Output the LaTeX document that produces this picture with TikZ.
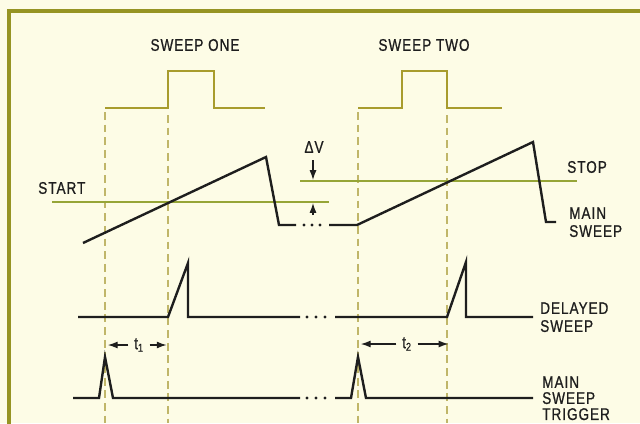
\documentclass[tikz,border=0pt]{standalone}
\usepackage{fontspec}
\setmainfont{Liberation Sans}
\newfontfamily\labelfont[FakeStretch=0.8,LetterSpace=6,FakeBold=0.8]{Liberation Sans}
\usetikzlibrary{positioning,arrows.meta,calc}
\definecolor{paper}{RGB}{253,252,230}
\definecolor{frameol}{RGB}{150,148,35}
\definecolor{gateol}{RGB}{168,156,45}
\definecolor{levelgr}{RGB}{150,165,55}
\definecolor{guideol}{RGB}{192,182,105}
\definecolor{ink}{RGB}{30,30,30}
\tikzset{
    frame/.style={
        draw=frameol,
        line width=2.6pt,
        line cap=rect
    },
    gate/.style={
        draw=gateol,
        line width=2pt,
        line join=miter
    },
    level/.style={
        draw=levelgr,
        line width=1.2pt
    },
    guide/.style={
        draw=guideol,
        line width=0.9pt,
        dash pattern=on 5.5pt off 3.5pt
    },
    wave/.style={
        draw=ink,
        line width=1.7pt,
        line join=miter
    },
    lbl/.style={
        font=\labelfont\fontsize{12}{12.8}\selectfont,
        text=ink,
        inner sep=0pt,
        align=left
    },
    dim/.style={-{Latex[length=7pt,width=5pt]},line width=0.9pt,ink},
    dotmark/.style={fill=ink,draw=none}
}

\begin{document}
\begin{tikzpicture}[x=0.025cm,y=-0.025cm]
\fill[paper] (0,0) rectangle (640,423);
\useasboundingbox (0,0) rectangle (640,423);

% frame
\draw[frame] (9,423) -- (9,11) -- (640,11);

% gate pulses
\draw[gate] (105,108) -- (168,108) -- (168,71) -- (214,71) -- (214,108) -- (265,108);
\draw[gate] (358,108) -- (402,108) -- (402,71) -- (447,71) -- (447,108) -- (502,108);
\node[lbl] (sweepone) at (195,45) {SWEEP ONE};
\node[lbl] (sweeptwo) at (424,45) {SWEEP TWO};

% guide lines
\coordinate (ga) at (105,112);
\coordinate (gb) at (168,115);
\coordinate (gc) at (358,112);
\coordinate (gd) at (447,115);
\foreach \g in {ga,gb,gc,gd}
    \draw[guide] (\g) -- (\g |- 0,423);

% start / stop levels
\draw[level] (52,202) -- (329,202);
\draw[level] (300,181) -- (577,181);
\node[lbl,anchor=west] (start) at (38,188) {START};
\node[lbl,anchor=west] (stop) at (567,167) {STOP};
\node[lbl] (dv) at (314,147) {ΔV};
\draw[dim] (313,160) -- (313,180);
\draw[dim] (313,215) -- (313,203);

% main sweep
\draw[wave] (83,243) -- (266,157) -- (279,225) -- (296,225);
\draw[wave] (329,225) -- (357,225) -- (533,142) -- (546,222) -- (556,222);
\foreach \x in {304,312,320}
    \fill[dotmark] (\x,225) circle (1.6);
\node[lbl,anchor=north west] (mainlbl) at (569,207) {MAIN\\SWEEP};

% delayed sweep
\draw[wave] (78,317) -- (168,317) -- (188,263) -- (188,317) -- (300,317);
\draw[wave] (335,317) -- (447,317) -- (466,262) -- (466,317) -- (533,317);
\foreach \x in {307,316,325}
    \fill[dotmark] (\x,317) circle (1.6);
\node[lbl,anchor=north west] (delaylbl) at (540,302) {DELAYED\\SWEEP};

% delay times
\node[lbl] (t1) at (139,345) {t\textsubscript{1}};
\draw[dim] ([xshift=-4pt]t1.west) -- ([xshift=2pt]ga |- t1);
\draw[dim] ([xshift=4pt]t1.east) -- ([xshift=-1pt]gb |- t1);
\node[lbl] (t2) at (407,344) {t\textsubscript{2}};
\draw[dim] ([xshift=-4pt]t2.west) -- ([xshift=2pt]gc |- t2);
\draw[dim] ([xshift=4pt]t2.east) -- ([xshift=1pt]gd |- t2);

% main sweep trigger
\draw[wave] (73,398) -- (99,398) -- (105,357) -- (113,398) -- (300,398);
\draw[wave] (335,398) -- (351,398) -- (358,357) -- (366,398) -- (533,398);
\foreach \x in {307,316,325}
    \fill[dotmark] (\x,398) circle (1.6);
\node[lbl,anchor=north west,font=\labelfont\fontsize{12}{11.4}\selectfont] (triglbl) at (542,376) {MAIN\\SWEEP\\TRIGGER};
\end{tikzpicture}
\end{document}
